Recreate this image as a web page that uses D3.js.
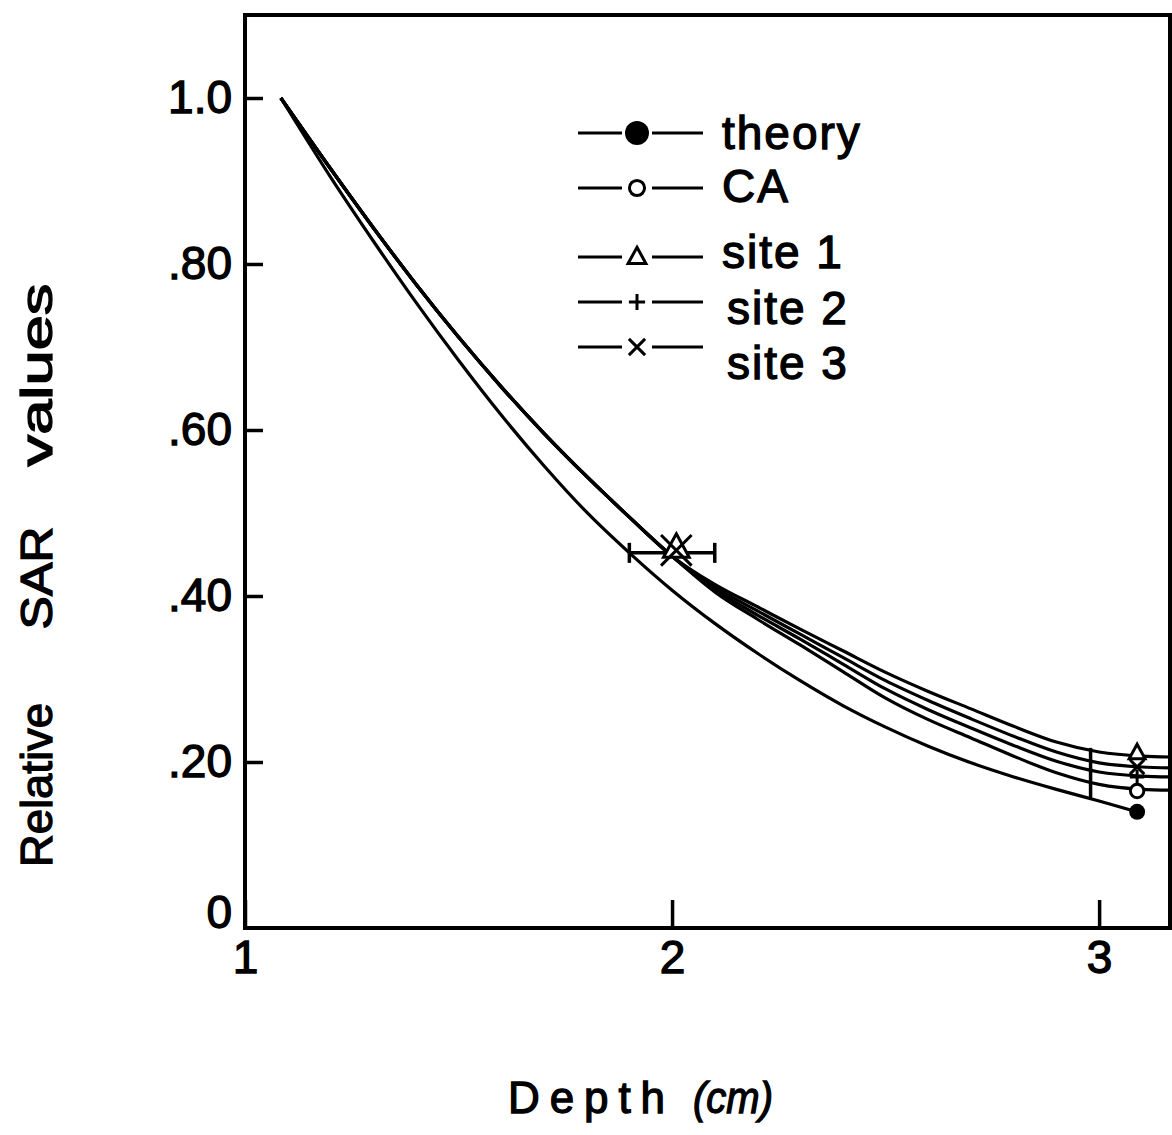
<!DOCTYPE html>
<html>
<head>
<meta charset="utf-8">
<style>
html, body { margin: 0; padding: 0; background: #fff; }
svg { display: block; }
text { font-family: "Liberation Sans", Arial, sans-serif; fill: #000; stroke: #000; stroke-width: 1.3px; }
</style>
<script src="https://d3js.org/d3.v7.min.js"></script>
</head>
<body>
<script>
// curves (depth in cm, relative SAR)
// shared part of the four measured curves, up to depth 2
var depthUpper = [1.084, 1.2, 1.3, 1.4, 1.5, 1.6, 1.7, 1.8, 1.9];
var sarUpper   = [1.0, 0.915, 0.844, 0.776, 0.712, 0.652, 0.596, 0.544, 0.495];

// after depth 2 the curves separate
var depthTail    = [2.0, 2.1, 2.2, 2.3, 2.4, 2.5, 2.6, 2.7, 2.8, 2.9, 3.0, 3.1, 3.166];
var sarSite1Tail = [0.448, 0.414, 0.387, 0.360, 0.334, 0.308, 0.285, 0.264, 0.243, 0.224, 0.212, 0.207, 0.206];
var sarSite3Tail = [0.448, 0.411, 0.382, 0.354, 0.326, 0.298, 0.274, 0.252, 0.231, 0.212, 0.199, 0.194, 0.193];
var sarSite2Tail = [0.448, 0.408, 0.377, 0.348, 0.318, 0.288, 0.263, 0.241, 0.220, 0.201, 0.188, 0.183, 0.182];
var sarCATail    = [0.448, 0.405, 0.372, 0.341, 0.309, 0.277, 0.251, 0.229, 0.207, 0.187, 0.173, 0.167, 0.166];

var depthTheory = [1.084, 1.2, 1.3, 1.4, 1.5, 1.6, 1.7, 1.8, 1.9, 2.0, 2.1, 2.2, 2.3, 2.4, 2.5, 2.6, 2.7, 2.8, 2.9, 3.0, 3.089];
var sarTheory   = [1.0, 0.905, 0.828, 0.754, 0.684, 0.618, 0.557, 0.501, 0.452, 0.407, 0.367, 0.331, 0.298, 0.268, 0.242, 0.219, 0.199, 0.182, 0.167, 0.153, 0.14];

// markers
var midDepth = 2.01;
var midSeries = ["site 1", "site 3"];
var midValues = [0.458, 0.455];
var midErrDepth = [1.9, 2.1];
var midErrSAR = 0.452;

var endDepth = 3.089;
var endSeries = ["theory", "CA", "site 1", "site 2", "site 3"];
var endValues = [0.14, 0.165, 0.211, 0.182, 0.194];
var endErrDepth = 2.98;
var endErrSAR = [0.157, 0.217];

var legendLabels = ["theory", "CA", "site 1", "site 2", "site 3"];
var legendSymbols = ["dot", "circle", "triangle", "plus", "cross"];

var yTickValues = [0, 0.2, 0.4, 0.6, 0.8, 1.0];
var yTickLabels = ["0", ".20", ".40", ".60", ".80", "1.0"];
var xTickValues = [1, 2, 3];
var xTickLabels = ["1", "2", "3"];

var symbolOf = {};
legendLabels.forEach(function(l, i) { symbolOf[l] = legendSymbols[i]; });

var W = 1172, H = 1135;
var mLeft = 245, mRight = 1170, mTop = 15, mBottom = 928;

var x = d3.scaleLinear().domain([1, 3.166]).range([mLeft, mRight]);
var y = d3.scaleLinear().domain([0, 1.1]).range([mBottom, mTop]);

var svg = d3.select("body").append("svg")
  .attr("width", W)
  .attr("height", H);

// axes
var yAxis = d3.axisLeft(y)
  .tickValues(yTickValues.slice(1))
  .tickFormat(function(d) { return yTickLabels[yTickValues.indexOf(d)]; })
  .tickSizeInner(-18).tickSizeOuter(0).tickPadding(13);

var gy = svg.append("g").attr("transform", "translate(" + mLeft + ",0)").call(yAxis);
gy.select(".domain").remove();
gy.selectAll("line").attr("stroke", "#000").attr("stroke-width", 3.5);
gy.selectAll("text").attr("font-size", 46).attr("font-family", "Liberation Sans").attr("fill", "#000");

svg.append("text")
  .attr("x", mLeft - 13).attr("y", y(0) - 16)
  .attr("dy", "0.35em")
  .attr("text-anchor", "end")
  .attr("font-size", 46)
  .text(yTickLabels[0]);

var xAxis = d3.axisBottom(x)
  .tickValues(xTickValues)
  .tickFormat(function(d, i) { return xTickLabels[i]; })
  .tickSizeInner(-28).tickSizeOuter(0).tickPadding(12);

var gx = svg.append("g").attr("transform", "translate(0," + mBottom + ")").call(xAxis);
gx.select(".domain").remove();
gx.selectAll("line").attr("stroke", "#000").attr("stroke-width", 3.5);
gx.selectAll("text").attr("font-size", 46).attr("font-family", "Liberation Sans").attr("fill", "#000");

svg.append("rect")
  .attr("x", mLeft).attr("y", mTop)
  .attr("width", mRight - mLeft).attr("height", mBottom - mTop)
  .attr("fill", "none").attr("stroke", "#000").attr("stroke-width", 4);

// curves
var line = d3.line()
  .x(function(d) { return x(d[0]); })
  .y(function(d) { return y(d[1]); })
  .curve(d3.curveMonotoneX);

var upper = d3.zip(depthUpper, sarUpper);
var tails = [sarSite1Tail, sarSite3Tail, sarSite2Tail, sarCATail];
var plot = svg.append("g");

tails.forEach(function(t) {
  plot.append("path")
    .attr("d", line(upper.concat(d3.zip(depthTail, t))))
    .attr("fill", "none").attr("stroke", "#000").attr("stroke-width", 3.2);
});
plot.append("path")
  .attr("d", line(d3.zip(depthTheory, sarTheory)))
  .attr("fill", "none").attr("stroke", "#000").attr("stroke-width", 3.2);

function drawSymbol(g, type, cx, cy, s) {
  if (type == "dot") {
    g.append("circle").attr("cx", cx).attr("cy", cy).attr("r", s * 0.5).attr("fill", "#000");
  } else if (type == "circle") {
    g.append("circle").attr("cx", cx).attr("cy", cy).attr("r", s * 0.42)
      .attr("fill", "#fff").attr("stroke", "#000").attr("stroke-width", 3);
  } else if (type == "triangle") {
    var h = s * 0.9;
    g.append("path")
      .attr("d", "M" + cx + "," + (cy - h * 0.6) + "L" + (cx + h * 0.55) + "," + (cy + h * 0.4) + "L" + (cx - h * 0.55) + "," + (cy + h * 0.4) + "Z")
      .attr("fill", "#fff").attr("stroke", "#000").attr("stroke-width", 3);
  } else if (type == "plus") {
    var p = s * 0.45;
    g.append("path")
      .attr("d", "M" + (cx - p) + "," + cy + "H" + (cx + p) + "M" + cx + "," + (cy - p) + "V" + (cy + p))
      .attr("stroke", "#000").attr("stroke-width", 3);
  } else if (type == "cross") {
    var c = s * 0.45;
    g.append("path")
      .attr("d", "M" + (cx - c) + "," + (cy - c) + "L" + (cx + c) + "," + (cy + c) + "M" + (cx + c) + "," + (cy - c) + "L" + (cx - c) + "," + (cy + c))
      .attr("stroke", "#000").attr("stroke-width", 3);
  }
}

// error bars
var eb = svg.append("g").attr("stroke", "#000").attr("stroke-width", 3.5).attr("fill", "none");
eb.append("line")
  .attr("x1", x(midErrDepth[0])).attr("x2", x(midErrDepth[1]))
  .attr("y1", y(midErrSAR)).attr("y2", y(midErrSAR));
midErrDepth.forEach(function(d) {
  eb.append("line").attr("x1", x(d)).attr("x2", x(d))
    .attr("y1", y(midErrSAR) - 10).attr("y2", y(midErrSAR) + 10);
});
eb.append("line")
  .attr("x1", x(endErrDepth)).attr("x2", x(endErrDepth))
  .attr("y1", y(endErrSAR[0])).attr("y2", y(endErrSAR[1]));

var marks = svg.append("g");
midSeries.forEach(function(s, i) {
  drawSymbol(marks, symbolOf[s], x(midDepth), y(midValues[i]), s == "site 1" ? 26 : 34);
});
endSeries.forEach(function(s, i) {
  drawSymbol(marks, symbolOf[s], x(endDepth), y(endValues[i]), 16);
});

// legend
var legRowY = [133, 188, 257, 302, 347];
var legTextY = [149, 202, 268, 324, 379];
var legend = svg.append("g");
legendLabels.forEach(function(l, i) {
  var ly = legRowY[i];
  var mx = 637;
  legend.append("line").attr("x1", 578).attr("x2", mx - 15).attr("y1", ly).attr("y2", ly)
    .attr("stroke", "#000").attr("stroke-width", 3);
  legend.append("line").attr("x1", mx + 15).attr("x2", 703).attr("y1", ly).attr("y2", ly)
    .attr("stroke", "#000").attr("stroke-width", 3);
  drawSymbol(legend, legendSymbols[i], mx, ly, legendSymbols[i] == "dot" ? 24 : 18);
  legend.append("text")
    .attr("x", i < 3 ? 722 : 727).attr("y", legTextY[i])
    .attr("font-size", 46)
    .attr("letter-spacing", 2)
    .text(l);
});

// axis titles: words are set apart as in the original lettering
var yWords = ["Relative", "SAR", "values"];
var yWordCenter = [785, 578, 375];
var yWordLen = [164, 103, 183];
yWords.forEach(function(w, i) {
  svg.append("text")
    .attr("transform", "translate(52," + yWordCenter[i] + ") rotate(-90)")
    .attr("text-anchor", "middle")
    .attr("font-size", 45)
    .attr("textLength", yWordLen[i])
    .attr("lengthAdjust", "spacingAndGlyphs")
    .text(w);
});

svg.append("text")
  .attr("x", 508).attr("y", 1113)
  .attr("font-size", 44)
  .attr("textLength", 157)
  .attr("lengthAdjust", "spacing")
  .text("Depth");
svg.append("text")
  .attr("x", 693).attr("y", 1113)
  .attr("font-size", 44)
  .attr("font-style", "italic")
  .attr("textLength", 80)
  .attr("lengthAdjust", "spacingAndGlyphs")
  .text("(cm)");
</script>
</body>
</html>
